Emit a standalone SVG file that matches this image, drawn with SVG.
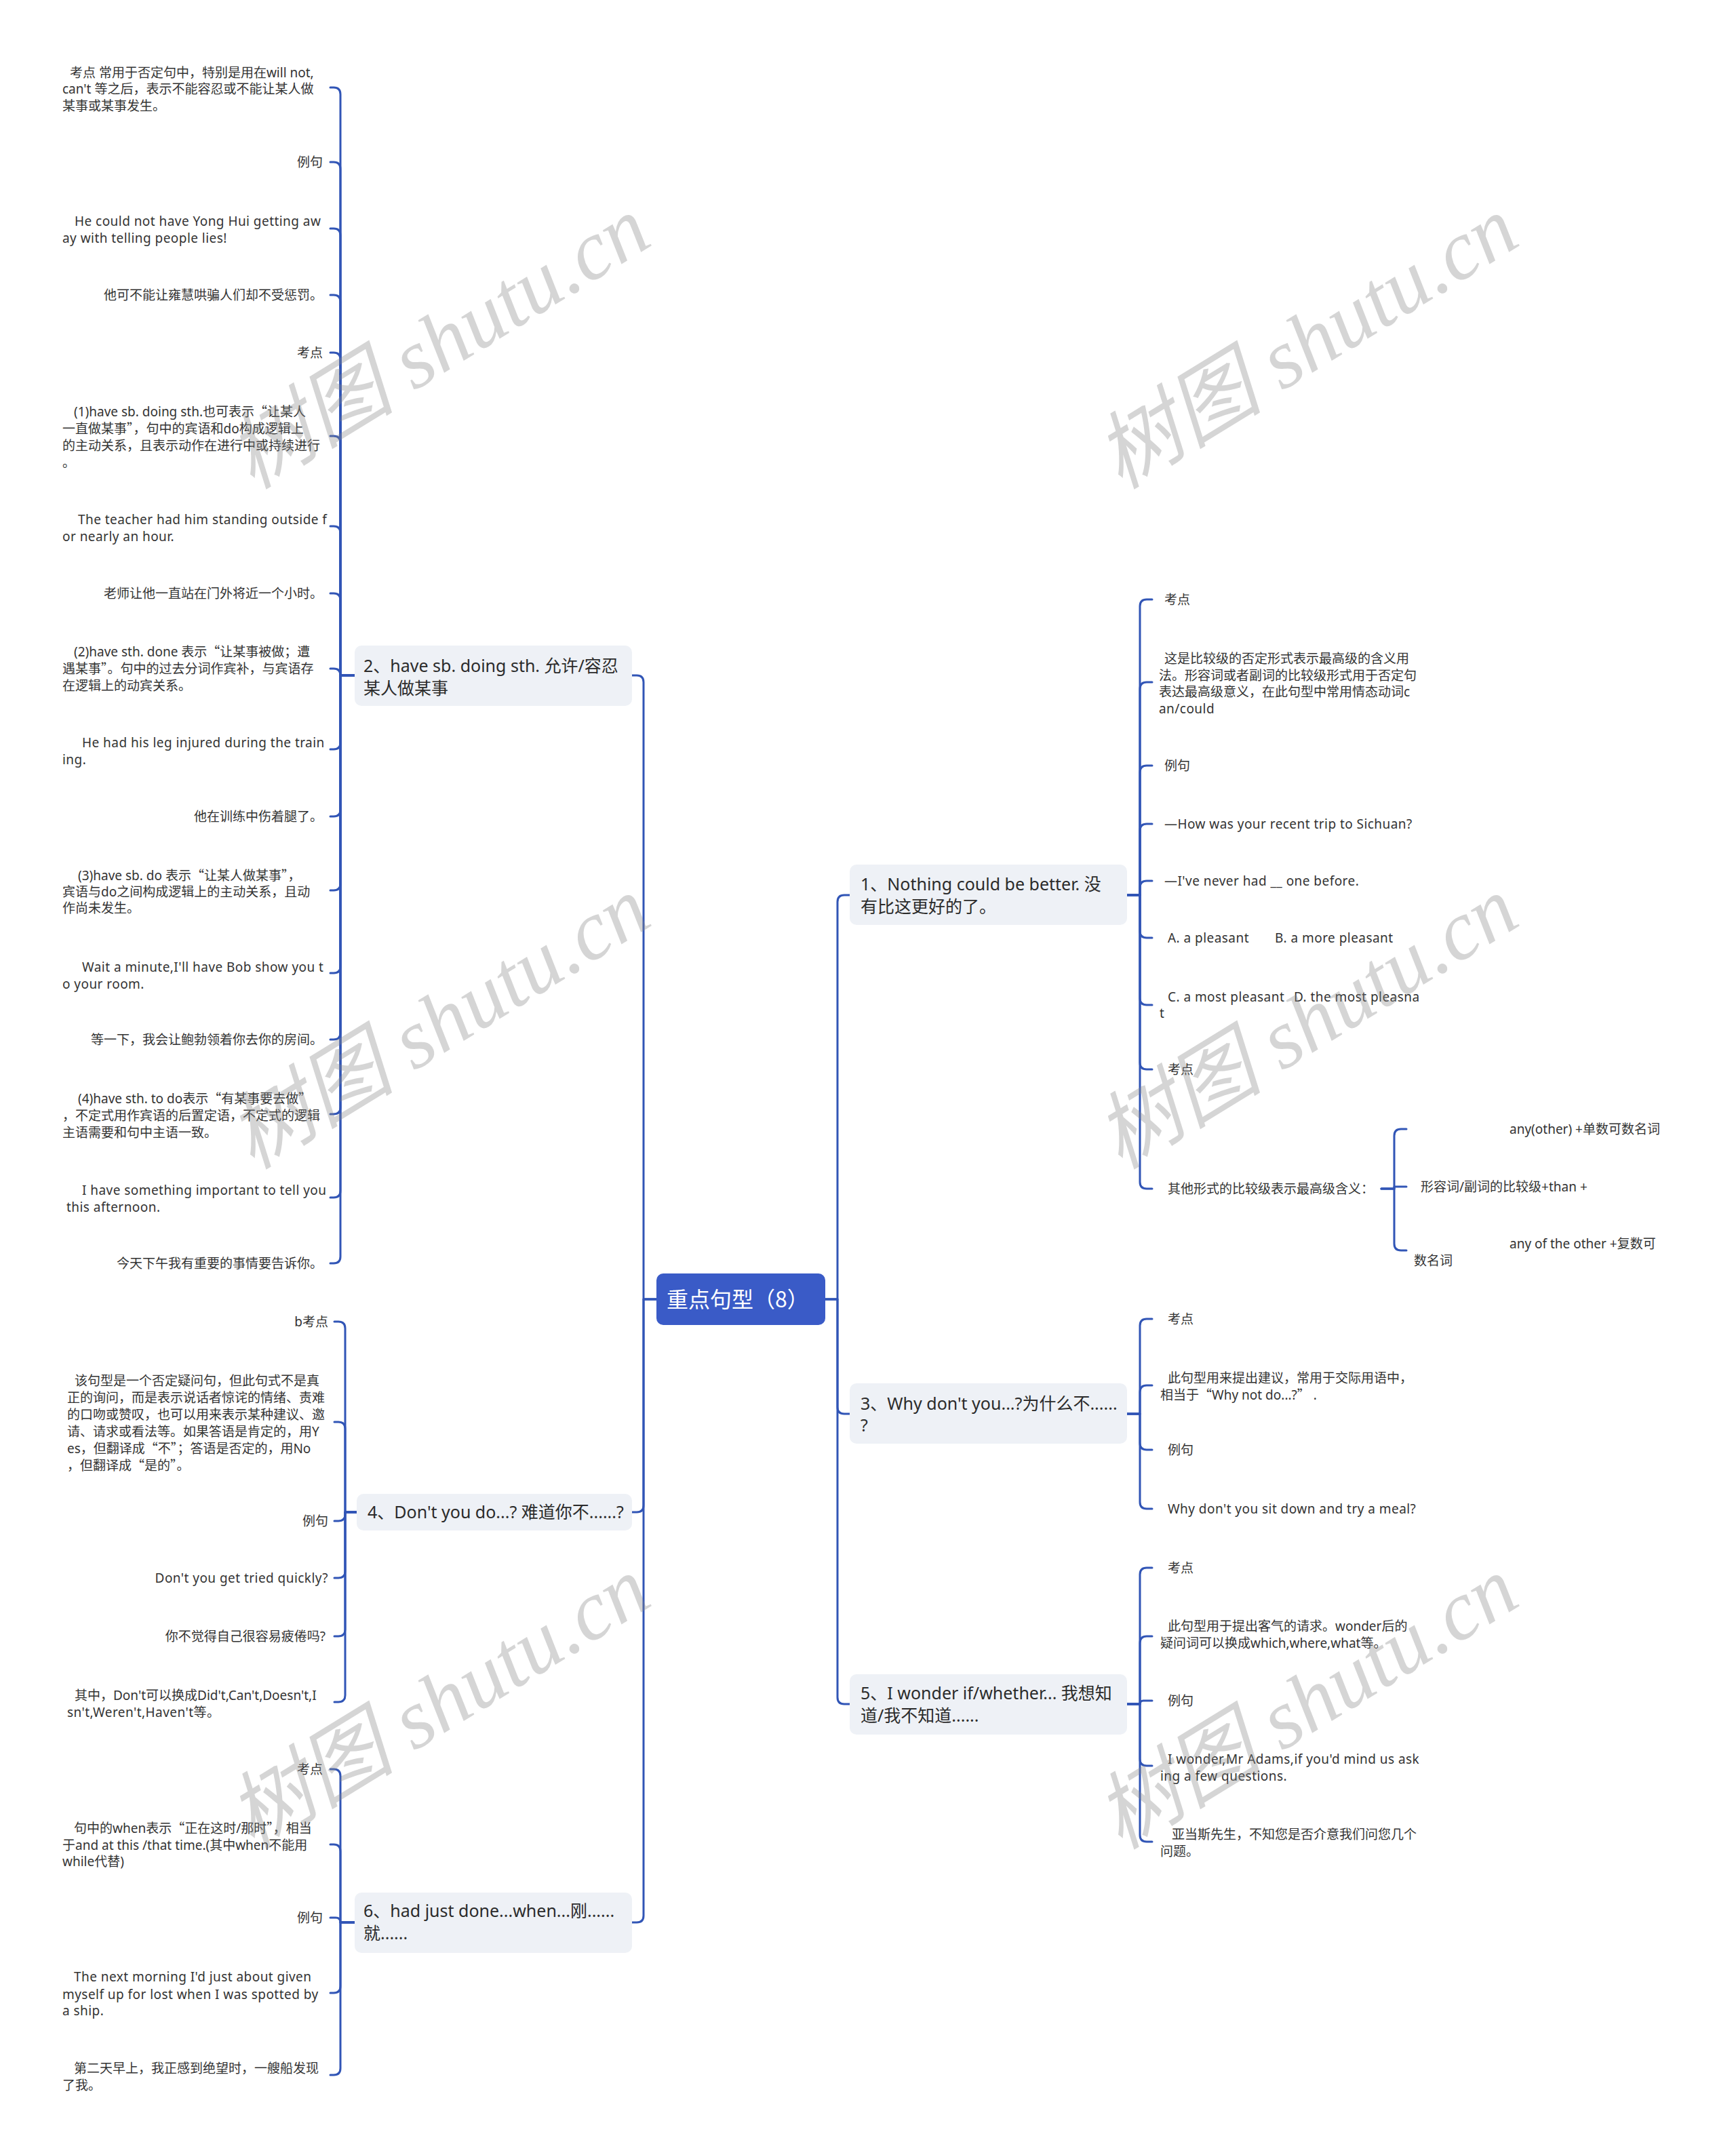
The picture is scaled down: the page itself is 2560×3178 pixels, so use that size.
<svg xmlns="http://www.w3.org/2000/svg" width="2560" height="3178" viewBox="0 0 2560 3178">
<style>
.ln{fill:none;stroke:#3155b6;stroke-width:3;stroke-linecap:round;stroke-linejoin:round}
.t{font-family:"Noto Sans","Noto Sans CJK SC",sans-serif;font-size:19px;fill:#333}
.lat{letter-spacing:0.45px}
.q{font-family:"Noto Sans CJK SC",sans-serif}
.e{text-anchor:end}
.bt{font-family:"Noto Sans","Noto Sans CJK SC",sans-serif;font-size:25px;fill:#2b2b2b}
.box{fill:#eef1f6}
.ct{font-family:"Noto Sans CJK SC","Noto Sans",sans-serif;font-size:32px;fill:#fff}
.wm{font-family:"Liberation Serif","Noto Sans CJK SC",serif;font-size:124px;font-style:italic;fill:#888;fill-opacity:0.35;text-anchor:middle}
</style>
<rect width="2560" height="3178" fill="#fff"/>
<g id="connectors">
<path class="ln" d="M968,1916 H949 V1006 Q949,996 939,996 H932"/>
<path class="ln" d="M968,1916 H949 V2220 Q949,2230 939,2230 H932"/>
<path class="ln" d="M968,1916 H949 V2825 Q949,2835 939,2835 H932"/>
<path class="ln" d="M1217,1916 H1235 V1330 Q1235,1320 1245,1320 H1253"/>
<path class="ln" d="M1217,1916 H1235 V2075 Q1235,2085 1245,2085 H1253"/>
<path class="ln" d="M1217,1916 H1235 V2503 Q1235,2513 1245,2513 H1253"/>
<path class="ln" d="M523,996 H502 V139 Q502,129 492,129 H487"/>
<path class="ln" d="M523,996 H502 V249 Q502,239 492,239 H487"/>
<path class="ln" d="M523,996 H502 V347 Q502,337 492,337 H487"/>
<path class="ln" d="M523,996 H502 V445 Q502,435 492,435 H487"/>
<path class="ln" d="M523,996 H502 V530 Q502,520 492,520 H487"/>
<path class="ln" d="M523,996 H502 V653 Q502,643 492,643 H487"/>
<path class="ln" d="M523,996 H502 V786 Q502,776 492,776 H487"/>
<path class="ln" d="M523,996 H502 V885 Q502,875 492,875 H487"/>
<path class="ln" d="M523,996 H502 Q502,986 492,986 H487"/>
<path class="ln" d="M523,996 H502 V1095 Q502,1105 492,1105 H487"/>
<path class="ln" d="M523,996 H502 V1194 Q502,1204 492,1204 H487"/>
<path class="ln" d="M523,996 H502 V1303 Q502,1313 492,1313 H487"/>
<path class="ln" d="M523,996 H502 V1425 Q502,1435 492,1435 H487"/>
<path class="ln" d="M523,996 H502 V1523 Q502,1533 492,1533 H487"/>
<path class="ln" d="M523,996 H502 V1633 Q502,1643 492,1643 H487"/>
<path class="ln" d="M523,996 H502 V1756 Q502,1766 492,1766 H487"/>
<path class="ln" d="M523,996 H502 V1853 Q502,1863 492,1863 H487"/>
<path class="ln" d="M526,2230 H509 V1959 Q509,1949 499,1949 H493"/>
<path class="ln" d="M526,2230 H509 V2107 Q509,2097 499,2097 H493"/>
<path class="ln" d="M526,2230 H509 V2233 Q509,2243 499,2243 H493"/>
<path class="ln" d="M526,2230 H509 V2317 Q509,2327 499,2327 H493"/>
<path class="ln" d="M526,2230 H509 V2403 Q509,2413 499,2413 H493"/>
<path class="ln" d="M526,2230 H509 V2500 Q509,2510 499,2510 H493"/>
<path class="ln" d="M523,2835 H502 V2619 Q502,2609 492,2609 H487"/>
<path class="ln" d="M523,2835 H502 V2730 Q502,2720 492,2720 H487"/>
<path class="ln" d="M523,2835 H502 Q502,2828 495,2828 H487"/>
<path class="ln" d="M523,2835 H502 V2929 Q502,2939 492,2939 H487"/>
<path class="ln" d="M523,2835 H502 V3050 Q502,3060 492,3060 H487"/>
<path class="ln" d="M1662,1320 H1681 V894 Q1681,884 1691,884 H1699"/>
<path class="ln" d="M1662,1320 H1681 V1016 Q1681,1006 1691,1006 H1699"/>
<path class="ln" d="M1662,1320 H1681 V1139 Q1681,1129 1691,1129 H1699"/>
<path class="ln" d="M1662,1320 H1681 V1225 Q1681,1215 1691,1215 H1699"/>
<path class="ln" d="M1662,1320 H1681 V1309 Q1681,1299 1691,1299 H1699"/>
<path class="ln" d="M1662,1320 H1681 V1373 Q1681,1383 1691,1383 H1699"/>
<path class="ln" d="M1662,1320 H1681 V1472 Q1681,1482 1691,1482 H1699"/>
<path class="ln" d="M1662,1320 H1681 V1567 Q1681,1577 1691,1577 H1699"/>
<path class="ln" d="M1662,1320 H1681 V1743 Q1681,1753 1691,1753 H1699"/>
<path class="ln" d="M2037,1753 H2056 V1675 Q2056,1665 2066,1665 H2074"/>
<path class="ln" d="M2037,1753 H2056 V1750 H2074"/>
<path class="ln" d="M2037,1753 H2056 V1834 Q2056,1844 2066,1844 H2074"/>
<path class="ln" d="M1662,2085 H1681 V1955 Q1681,1945 1691,1945 H1699"/>
<path class="ln" d="M1662,2085 H1681 V2053 Q1681,2043 1691,2043 H1699"/>
<path class="ln" d="M1662,2085 H1681 V2128 Q1681,2138 1691,2138 H1699"/>
<path class="ln" d="M1662,2085 H1681 V2215 Q1681,2225 1691,2225 H1699"/>
<path class="ln" d="M1662,2513 H1681 V2322 Q1681,2312 1691,2312 H1699"/>
<path class="ln" d="M1662,2513 H1681 V2423 Q1681,2413 1691,2413 H1699"/>
<path class="ln" d="M1662,2513 H1681 Q1681,2508 1686,2508 H1699"/>
<path class="ln" d="M1662,2513 H1681 V2594 Q1681,2604 1691,2604 H1699"/>
<path class="ln" d="M1662,2513 H1681 V2706 Q1681,2716 1691,2716 H1699"/>
</g>
<g id="root">
<rect x="968" y="1878" width="249" height="76" rx="10" fill="#3a5bc7"/>
<text class="ct" x="983" y="1928">重点句型（8）</text>
</g>
<g id="n1">
<rect class="box" x="1253" y="1275" width="409" height="89" rx="10"/>
<text class="bt" x="1269" y="1313">1、Nothing could be better. 没</text>
<text class="bt" x="1269" y="1346">有比这更好的了。</text>
</g>
<g id="n2">
<rect class="box" x="523" y="952" width="409" height="89" rx="10"/>
<text class="bt" x="536" y="991">2、have sb. doing sth. 允许/容忍</text>
<text class="bt" x="536" y="1024">某人做某事</text>
</g>
<g id="n3">
<rect class="box" x="1253" y="2040" width="409" height="89" rx="10"/>
<text class="bt" x="1269" y="2079">3、Why don't you...?为什么不......</text>
<text class="bt" x="1269" y="2111">?</text>
</g>
<g id="n4">
<rect class="box" x="526" y="2203" width="406" height="54" rx="10"/>
<text class="bt" x="542" y="2239">4、Don't you do...? 难道你不......?</text>
</g>
<g id="n5">
<rect class="box" x="1253" y="2469" width="409" height="89" rx="10"/>
<text class="bt" x="1269" y="2506">5、I wonder if/whether... 我想知</text>
<text class="bt" x="1269" y="2539">道/我不知道......</text>
</g>
<g id="n6">
<rect class="box" x="523" y="2791" width="409" height="89" rx="10"/>
<text class="bt" x="536" y="2827">6、had just done...when...刚......</text>
<text class="bt" x="536" y="2860">就......</text>
</g>
<g id="n2-children">
<g id="n2c1"><text class="t" x="103" y="114">考点 常用于否定句中，特别是用在will not,</text><text class="t" x="92" y="138">can't 等之后，表示不能容忍或不能让某人做</text><text class="t" x="92" y="163">某事或某事发生。</text></g>
<g id="n2c2"><text class="t e" x="476" y="246">例句</text></g>
<g id="n2c3"><text class="t lat" x="110" y="333">He could not have Yong Hui getting aw</text><text class="t lat" x="92" y="358">ay with telling people lies!</text></g>
<g id="n2c4"><text class="t e" x="476" y="442">他可不能让雍慧哄骗人们却不受惩罚。</text></g>
<g id="n2c5"><text class="t e" x="476" y="527">考点</text></g>
<g id="n2c6"><text class="t" x="109" y="614">(1)have sb. doing sth.也可表示<tspan class="q">“</tspan>让某人</text><text class="t" x="92" y="639">一直做某事<tspan class="q">”</tspan>，句中的宾语和do构成逻辑上</text><text class="t" x="92" y="664">的主动关系，且表示动作在进行中或持续进行</text><text class="t" x="92" y="689">。</text></g>
<g id="n2c7"><text class="t lat" x="115" y="773">The teacher had him standing outside f</text><text class="t lat" x="92" y="798">or nearly an hour.</text></g>
<g id="n2c8"><text class="t e" x="476" y="882">老师让他一直站在门外将近一个小时。</text></g>
<g id="n2c9"><text class="t" x="109" y="968">(2)have sth. done 表示<tspan class="q">“</tspan>让某事被做；遭</text><text class="t" x="92" y="993">遇某事<tspan class="q">”</tspan>。句中的过去分词作宾补，与宾语存</text><text class="t" x="92" y="1018">在逻辑上的动宾关系。</text></g>
<g id="n2c10"><text class="t lat" x="121" y="1102">He had his leg injured during the train</text><text class="t lat" x="92" y="1127">ing.</text></g>
<g id="n2c11"><text class="t e" x="476" y="1211">他在训练中伤着腿了。</text></g>
<g id="n2c12"><text class="t" x="115" y="1298">(3)have sb. do 表示<tspan class="q">“</tspan>让某人做某事<tspan class="q">”</tspan>，</text><text class="t" x="92" y="1322">宾语与do之间构成逻辑上的主动关系，且动</text><text class="t" x="92" y="1346">作尚未发生。</text></g>
<g id="n2c13"><text class="t lat" x="121" y="1433">Wait a minute,I'll have Bob show you t</text><text class="t lat" x="92" y="1458">o your room.</text></g>
<g id="n2c14"><text class="t e" x="476" y="1540">等一下，我会让鲍勃领着你去你的房间。</text></g>
<g id="n2c15"><text class="t" x="115" y="1627">(4)have sth. to do表示<tspan class="q">“</tspan>有某事要去做<tspan class="q">”</tspan></text><text class="t" x="92" y="1652">，不定式用作宾语的后置定语，不定式的逻辑</text><text class="t" x="92" y="1677">主语需要和句中主语一致。</text></g>
<g id="n2c16"><text class="t lat" x="121" y="1762">I have something important to tell you</text><text class="t lat" x="98" y="1787">this afternoon.</text></g>
<g id="n2c17"><text class="t e" x="476" y="1870">今天下午我有重要的事情要告诉你。</text></g>
</g>
<g id="n4-children">
<g id="n4c1"><text class="t e" x="484" y="1956">b考点</text></g>
<g id="n4c2"><text class="t" x="110" y="2043">该句型是一个否定疑问句，但此句式不是真</text><text class="t" x="99" y="2068">正的询问，而是表示说话者惊诧的情绪、责难</text><text class="t" x="99" y="2093">的口吻或赞叹，也可以用来表示某种建议、邀</text><text class="t" x="99" y="2118">请、请求或看法等。如果答语是肯定的，用Y</text><text class="t" x="99" y="2143">es，但翻译成<tspan class="q">“</tspan>不<tspan class="q">”</tspan>；答语是否定的，用No</text><text class="t" x="99" y="2168">，但翻译成<tspan class="q">“</tspan>是的<tspan class="q">”</tspan>。</text></g>
<g id="n4c3"><text class="t e" x="484" y="2250">例句</text></g>
<g id="n4c4"><text class="t lat e" x="484" y="2334">Don't you get tried quickly?</text></g>
<g id="n4c5"><text class="t e" x="480" y="2420">你不觉得自己很容易疲倦吗?</text></g>
<g id="n4c6"><text class="t" x="110" y="2507">其中，Don't可以换成Did't,Can't,Doesn't,I</text><text class="t lat" x="99" y="2532">sn't,Weren't,Haven't等。</text></g>
</g>
<g id="n6-children">
<g id="n6c1"><text class="t e" x="476" y="2616">考点</text></g>
<g id="n6c2"><text class="t" x="109" y="2703">句中的when表示<tspan class="q">“</tspan>正在这时/那时<tspan class="q">”</tspan>，相当</text><text class="t" x="92" y="2728">于and at this /that time.(其中when不能用</text><text class="t" x="92" y="2752">while代替)</text></g>
<g id="n6c3"><text class="t e" x="476" y="2835">例句</text></g>
<g id="n6c4"><text class="t lat" x="109" y="2922">The next morning I'd just about given</text><text class="t lat" x="92" y="2948">myself up for lost when I was spotted by</text><text class="t lat" x="92" y="2972">a ship.</text></g>
<g id="n6c5"><text class="t" x="109" y="3057">第二天早上，我正感到绝望时，一艘船发现</text><text class="t" x="92" y="3082">了我。</text></g>
</g>
<g id="n1-children">
<g id="n1c1"><text class="t" x="1717" y="891">考点</text></g>
<g id="n1c2"><text class="t" x="1717" y="978">这是比较级的否定形式表示最高级的含义用</text><text class="t" x="1709" y="1003">法。形容词或者副词的比较级形式用于否定句</text><text class="t" x="1709" y="1027">表达最高级意义，在此句型中常用情态动词c</text><text class="t lat" x="1709" y="1052">an/could</text></g>
<g id="n1c3"><text class="t" x="1717" y="1136">例句</text></g>
<g id="n1c4"><text class="t lat" x="1717" y="1222">—How was your recent trip to Sichuan?</text></g>
<g id="n1c5"><text class="t lat" x="1717" y="1306">—I've never had __ one before.</text></g>
<g id="n1c6"><text class="t lat" x="1722" y="1390">A. a pleasant</text><text class="t lat" x="1880" y="1390">B. a more pleasant</text></g>
<g id="n1c7"><text class="t lat" x="1722" y="1477">C. a most pleasant</text><text class="t lat" x="1908" y="1477">D. the most pleasna</text><text class="t" x="1710" y="1501">t</text></g>
<g id="n1c8"><text class="t" x="1722" y="1584">考点</text></g>
<g id="n1c9"><text class="t" x="1722" y="1760">其他形式的比较级表示最高级含义：</text></g>
<g id="n1c9a"><text class="t" x="2226" y="1672">any(other) +单数可数名词</text></g>
<g id="n1c9b"><text class="t" x="2095" y="1757">形容词/副词的比较级+than +</text></g>
<g id="n1c9c"><text class="t" x="2226" y="1841">any of the other +复数可</text><text class="t" x="2085" y="1866">数名词</text></g>
</g>
<g id="n3-children">
<g id="n3c1"><text class="t" x="1722" y="1952">考点</text></g>
<g id="n3c2"><text class="t" x="1722" y="2039">此句型用来提出建议，常用于交际用语中，</text><text class="t" x="1711" y="2064">相当于<tspan class="q">“</tspan>Why not do...?<tspan class="q">”</tspan> .</text></g>
<g id="n3c3"><text class="t" x="1722" y="2145">例句</text></g>
<g id="n3c4"><text class="t lat" x="1722" y="2232">Why don't you sit down and try a meal?</text></g>
</g>
<g id="n5-children">
<g id="n5c1"><text class="t" x="1722" y="2319">考点</text></g>
<g id="n5c2"><text class="t" x="1722" y="2405">此句型用于提出客气的请求。wonder后的</text><text class="t" x="1711" y="2430">疑问词可以换成which,where,what等。</text></g>
<g id="n5c3"><text class="t" x="1722" y="2515">例句</text></g>
<g id="n5c4"><text class="t lat" x="1722" y="2601">I wonder,Mr Adams,if you'd mind us ask</text><text class="t lat" x="1711" y="2626">ing a few questions.</text></g>
<g id="n5c5"><text class="t" x="1728" y="2712">亚当斯先生，不知您是否介意我们问您几个</text><text class="t" x="1711" y="2737">问题。</text></g>
</g>
<g id="watermarks">
<text class="wm" transform="translate(648,507) rotate(-31.5)" x="0" y="40">树图 shutu.cn</text>
<text class="wm" transform="translate(1928,507) rotate(-31.5)" x="0" y="40">树图 shutu.cn</text>
<text class="wm" transform="translate(648,1510) rotate(-31.5)" x="0" y="40">树图 shutu.cn</text>
<text class="wm" transform="translate(1928,1510) rotate(-31.5)" x="0" y="40">树图 shutu.cn</text>
<text class="wm" transform="translate(648,2513) rotate(-31.5)" x="0" y="40">树图 shutu.cn</text>
<text class="wm" transform="translate(1928,2513) rotate(-31.5)" x="0" y="40">树图 shutu.cn</text>
</g>
</svg>
